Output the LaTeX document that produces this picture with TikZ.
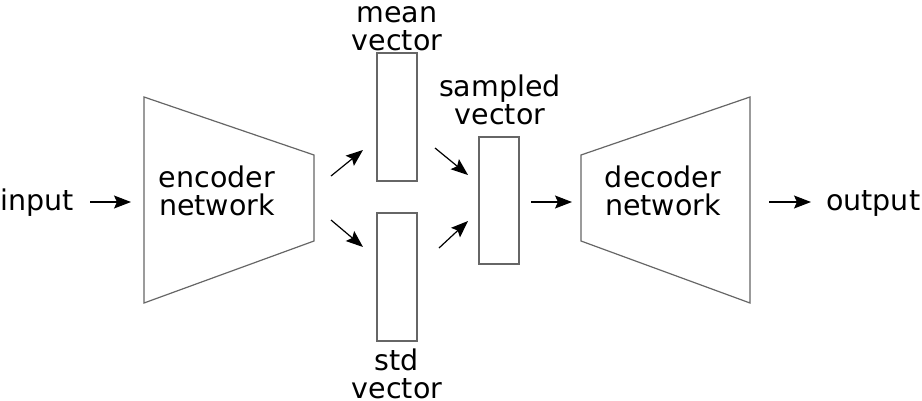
\documentclass[tikz,border=0pt]{standalone}
\usepackage{fontspec}
\setmainfont{DejaVu Sans}
\usetikzlibrary{arrows.meta}
\begin{document}
\begin{tikzpicture}[
		x=1pt, y=-1pt,
			box/.style = {
				draw = black!60,
				line width = 1.2pt
			},
			txt/.style = {
				font = \fontsize{28.5}{28}\selectfont,
				align = center,
				inner sep = 0pt
			},
			flow/.style = {
				-{Stealth[length=17pt,width=13pt,inset=3pt]},
				line width = 1.2pt
			}
		]
		\useasboundingbox (0,0) rectangle (922,400);
		% networks
		\draw[box] (144,97) -- (314,155) -- (314,241) -- (144,303) -- cycle;
		\draw[box] (581,155) -- (750,97) -- (750,303) -- (581,241) -- cycle;
		\node[txt] (enc) at (217,191) {encoder\\network};
		\node[txt] (dec) at (663,191) {decoder\\network};
		% vectors
		\node[box, minimum width=40pt, minimum height=128pt] (mean)    at (397,117) {};
		\node[box, minimum width=40pt, minimum height=128pt] (std)     at (397,277) {};
		\node[box, minimum width=40pt, minimum height=127pt] (sampled) at (499,200.5) {};
		\node[txt] (meanlbl)    at (397,29)  {mean\\vector};
		\node[txt] (stdlbl)     at (397,374) {std\\vector};
		\node[txt] (sampledlbl) at (500,100) {sampled\\vector};
		\node[txt, anchor=base west] (in)  at (0,210)   {input};
		\node[txt, anchor=base west] (out) at (826,210) {output};
		% arrow ends
		\coordinate (a1) at (90,202);   \coordinate (a2) at (131,202);
		\coordinate (b1) at (331,176);  \coordinate (b2) at (363,150);
		\coordinate (c1) at (331,220);  \coordinate (c2) at (363,247);
		\coordinate (d1) at (435,148);  \coordinate (d2) at (468,175);
		\coordinate (e1) at (439,248);  \coordinate (e2) at (468,221);
		\coordinate (f1) at (531,202);  \coordinate (f2) at (572,202);
		\coordinate (g1) at (769,202);  \coordinate (g2) at (811,202);
		\foreach \s/\t in {a1/a2, b1/b2, c1/c2, d1/d2, e1/e2, f1/f2, g1/g2}
			\draw[flow] (\s) -- (\t);
	\end{tikzpicture}
\end{document}
